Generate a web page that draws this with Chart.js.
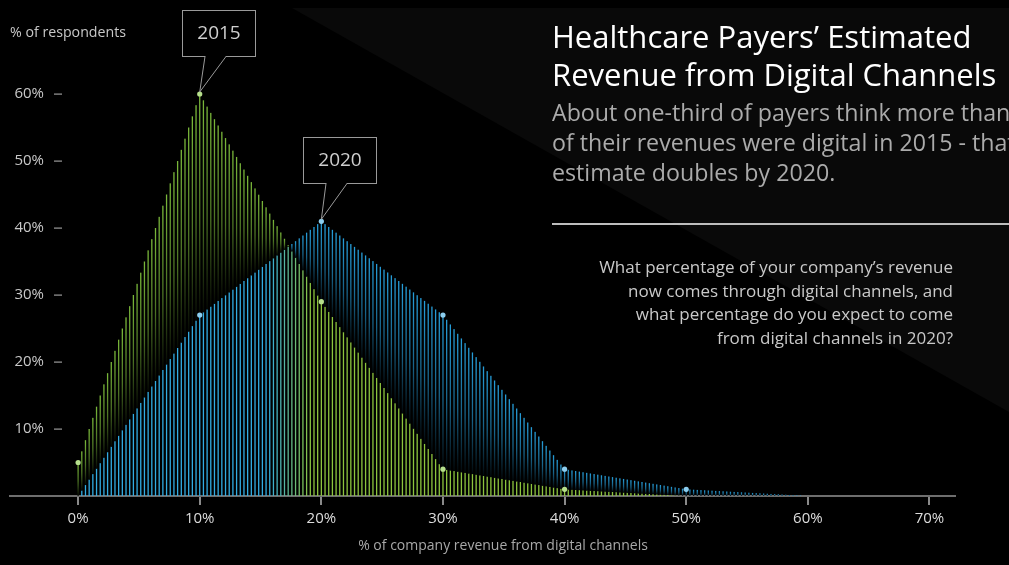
<!DOCTYPE html>
<html>
<head>
<meta charset="utf-8">
<script src="https://cdn.jsdelivr.net/npm/chart.js@4.4.1/dist/chart.umd.min.js"></script>
<style>
html, body { margin: 0; padding: 0; background: #000; }
#wrap { position: relative; width: 1009px; height: 565px; overflow: hidden; font-family: "Open Sans", sans-serif; }
#chart { position: absolute; left: 0; top: 0; }
.title { position: absolute; left: 552px; top: 17px; color: #fff; font-size: 31px; line-height: 38px; white-space: nowrap; }
.sub { position: absolute; left: 552px; top: 97px; color: #ababab; font-size: 23.2px; line-height: 30px; white-space: nowrap; }
.rule { position: absolute; left: 552px; top: 223px; width: 457px; height: 2px; background: #bdbdbd; }
.q { position: absolute; right: 56px; top: 255px; color: #c9c9c9; font-size: 17px; line-height: 23.7px; text-align: right; white-space: nowrap; }
</style>
</head>
<body>
<div id="wrap">
  <canvas id="chart" width="1009" height="565"></canvas>
  <div class="title">Healthcare Payers’ Estimated<br>Revenue from Digital Channels</div>
  <div class="sub">About one-third of payers think more than 10%<br>of their revenues were digital in 2015 - that<br>estimate doubles by 2020.</div>
  <div class="rule"></div>
  <div class="q">What percentage of your company’s revenue<br>now comes through digital channels, and<br>what percentage do you expect to come<br>from digital channels in 2020?</div>
</div>
<script>
const revenueShare = [0, 10, 20, 30, 40, 50, 60];
const share2015 = [5, 60, 29, 4, 1, 0, 0];
const share2020 = [0, 27, 41, 27, 4, 1, 0];
const xTicks = [0, 10, 20, 30, 40, 50, 60, 70];
const yTicks = [10, 20, 30, 40, 50, 60];

const green = [122, 184, 58];
const greenLow = [140, 196, 62];
const blue = [38, 158, 218];
const blueLow = [50, 172, 226];
const FONT = '"Open Sans", sans-serif';

function rgb(c, k = 1) {
  return 'rgb(' + c.map(v => Math.round(v * k)).join(',') + ')';
}
function mix(c1, c2, t) {
  return c1.map((v, i) => v + (c2[i] - v) * t);
}
// pixel y of a line element at pixel x
function yAt(points, px) {
  for (let i = 0; i < points.length - 1; i++) {
    const p = points[i], q = points[i + 1];
    if (px >= p.x && px <= q.x) {
      return p.y + (q.y - p.y) * (px - p.x) / (q.x - p.x);
    }
  }
  return points[points.length - 1].y;
}

const backdrop = {
  id: 'backdrop',
  beforeDraw(chart) {
    const ctx = chart.ctx;
    ctx.save();
    ctx.fillStyle = '#000';
    ctx.fillRect(0, 0, chart.width, chart.height);
    ctx.fillStyle = '#090909';
    ctx.beginPath();
    ctx.moveTo(292, 8);
    ctx.lineTo(1009, 8);
    ctx.lineTo(1009, 412);
    ctx.closePath();
    ctx.fill();
    ctx.restore();
  }
};

const stripes = {
  id: 'stripes',
  beforeDatasetsDraw(chart) {
    const ctx = chart.ctx;
    const xs = chart.scales.x, ys = chart.scales.y;
    const a = chart.getDatasetMeta(0).data;
    const b = chart.getDatasetMeta(1).data;
    const base = ys.getPixelForValue(0);
    const start = xs.getPixelForValue(revenueShare[0]);
    const end = xs.getPixelForValue(revenueShare[revenueShare.length - 1]);
    const step = (xs.getPixelForValue(10) - start) / 33;
    // where the two outlines cross
    let cross = -1000, prev = 0;
    for (let px = start; px <= end; px++) {
      const d = yAt(a, px) - yAt(b, px);
      if (Math.max(yAt(a, px), yAt(b, px)) < base - 5 && prev && Math.sign(d) !== Math.sign(prev)) { cross = px; break; }
      prev = d;
    }
    ctx.save();
    for (let px = start; px <= end + 0.5; px += step) {
      const ya = yAt(a, px), yb = yAt(b, px);
      const aLow = ya >= yb;
      const lowY = Math.max(ya, yb), topY = Math.min(ya, yb);
      const near = Math.max(0, 1 - Math.abs(px - cross) / 22) * 0.5;
      const lowCol = aLow ? mix(greenLow, blueLow, near) : mix(blueLow, greenLow, near);
      const highCol = aLow ? blue : green;
      if (base - lowY > 0.3) {
        ctx.fillStyle = rgb(lowCol);
        ctx.fillRect(px - 0.65, lowY, 1.3, base - lowY);
      }
      if (lowY - topY > 0.3) {
        const g = ctx.createLinearGradient(0, topY, 0, lowY);
        g.addColorStop(0, rgb(highCol));
        g.addColorStop(0.55, rgb(highCol, 0.62));
        g.addColorStop(1, rgb(highCol, 0.05));
        ctx.fillStyle = g;
        ctx.fillRect(px - 0.65, topY, 1.3, lowY - topY);
      }
    }
    ctx.restore();
  }
};

const axisText = {
  id: 'axisText',
  afterDraw(chart) {
    const ctx = chart.ctx;
    const ys = chart.scales.y;
    ctx.save();
    ctx.font = '14.2px ' + FONT;
    ctx.textBaseline = 'middle';
    ctx.fillStyle = '#c8c8c8';
    ctx.textAlign = 'left';
    ctx.fillText('% of respondents', 10, 33);
    ctx.font = '15px ' + FONT;
    ctx.textAlign = 'right';
    yTicks.forEach(v => {
      const py = ys.getPixelForValue(v);
      ctx.fillStyle = '#c8c8c8';
      ctx.fillText(v + '%', 44, py);
      ctx.fillStyle = '#9a9a9a';
      ctx.fillRect(54, py - 0.5, 8, 1.2);
    });
    ctx.font = '14px ' + FONT;
    ctx.textAlign = 'center';
    ctx.fillStyle = '#a8a8a8';
    ctx.fillText('% of company revenue from digital channels', 503, ys.bottom + 50);
    ctx.restore();
  }
};

const callouts = {
  id: 'callouts',
  afterDatasetsDraw(chart) {
    const ctx = chart.ctx;
    const series = [share2015, share2020];
    ctx.save();
    chart.data.datasets.forEach((ds, i) => {
      const pts = chart.getDatasetMeta(i).data;
      const vals = series[i];
      const k = vals.indexOf(Math.max(...vals));
      const p = pts[k];
      const left = Math.round(p.x) - 18, bottom = Math.round(p.y) - 38, w = 73, h = 46;
      ctx.fillStyle = '#000';
      ctx.fillRect(left, bottom - h, w, h);
      ctx.strokeStyle = '#9a9a9a';
      ctx.lineWidth = 1;
      ctx.strokeRect(left + 0.5, bottom - h + 0.5, w, h);
      ctx.beginPath();
      ctx.moveTo(left + 23, bottom + 0.5);
      ctx.lineTo(p.x, p.y - 2);
      ctx.lineTo(left + 44, bottom + 0.5);
      ctx.stroke();
      ctx.fillStyle = '#000';
      ctx.fillRect(left + 23.5, bottom - 0.5, 20, 1.6);
      ctx.fillStyle = '#cfcfcf';
      ctx.font = '19px ' + FONT;
      ctx.textAlign = 'center';
      ctx.textBaseline = 'middle';
      ctx.fillText(ds.label, left + w / 2 + 0.5, bottom - h / 2 + 1);
    });
    ctx.restore();
  }
};

new Chart(document.getElementById('chart'), {
  type: 'line',
  data: {
    labels: revenueShare,
    datasets: [
      {
        label: '2015',
        data: revenueShare.map((x, i) => ({ x, y: share2015[i] })),
        showLine: false,
        pointRadius: share2015.map((v, i) => (i < 5 ? 2.6 : 0)),
        pointBackgroundColor: '#b6df8c',
        pointBorderWidth: 0,
        fill: false
      },
      {
        label: '2020',
        data: revenueShare.map((x, i) => ({ x, y: share2020[i] })),
        showLine: false,
        pointRadius: share2020.map((v, i) => (i > 0 && i < 6 ? 2.6 : 0)),
        pointBackgroundColor: '#8ccdee',
        pointBorderWidth: 0,
        fill: false
      }
    ]
  },
  options: {
    responsive: false,
    animation: false,
    layout: { padding: { left: 10, right: 54, top: 27, bottom: 32 } },
    plugins: { legend: { display: false }, tooltip: { enabled: false } },
    scales: {
      x: {
        type: 'linear',
        min: -5.6,
        max: 72.1,
        afterBuildTicks: scale => { scale.ticks = xTicks.map(v => ({ value: v })); },
        grid: { drawOnChartArea: false, color: '#8a8a8a', tickLength: 9, lineWidth: 2 },
        border: { color: '#6e6e6e', width: 2 },
        ticks: { color: '#dcdcdc', font: { family: 'Open Sans', size: 15 }, padding: 5, callback: v => v + '%' }
      },
      y: {
        display: false,
        min: 0,
        max: 70
      }
    }
  },
  plugins: [backdrop, stripes, axisText, callouts]
});
</script>
</body>
</html>
